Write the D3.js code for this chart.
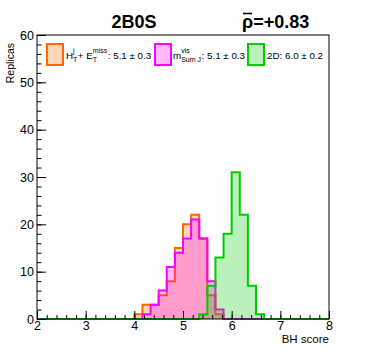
<!DOCTYPE html>
<html>
<head>
<meta charset="utf-8">
<script src="https://cdn.jsdelivr.net/npm/d3@7"></script>
<style>
  body { margin: 0; background: #fff; }
  text { font-family: "Liberation Sans", Arial, sans-serif; }
</style>
</head>
<body>
<div id="chart"></div>
<script>
const width = 366, height = 355;

// histogram binning: 36 bins of 1/6 from 2 to 8
const xMin = 2, xMax = 8, nBins = 36;

// replica counts per bin (bins 0..35)
const htMet = [0,0,0,0,0,0,0,0,0,0,0,0, 1,3,3,5,8,15,20,22,17,5,1, 0,0,0,0,0,0,0,0,0,0,0,0,0];
const mSumJ = [0,0,0,0,0,0,0,0,0,0,0,0, 0,1,3,6,11,14,17,21,17,8,2, 0,0,0,0,0,0,0,0,0,0,0,0,0];
const twoD  = [0,0,0,0,0,0,0,0,0,0,0,0, 0,0,0,0,0,0,0,0,1,7,13,18,31,22,7,1, 0,0,0,0,0,0,0,0];

const xTicks = [2, 3, 4, 5, 6, 7, 8];
const yTicks = [0, 10, 20, 30, 40, 50, 60];

const series = [
  {name: 'ht', counts: htMet, color: '#ff6600'},
  {name: 'm',  counts: mSumJ, color: '#ff00ff'},
  {name: '2d', counts: twoD,  color: '#00cc00'}
];

const margin = {top: 35, right: 37, bottom: 36, left: 37};

const x = d3.scaleLinear().domain([xMin, xMax]).range([margin.left, width - margin.right]);
const y = d3.scaleLinear().domain([0, 60]).range([height - margin.bottom, margin.top]);

const svg = d3.select('#chart').append('svg')
  .attr('width', width)
  .attr('height', height);

const binW = (xMax - xMin) / nBins;

const stepPath = counts => {
  const p = d3.path();
  p.moveTo(x(xMin), y(0));
  counts.forEach((c, i) => {
    p.lineTo(x(xMin + i * binW), y(c));
    p.lineTo(x(xMin + (i + 1) * binW), y(c));
  });
  p.lineTo(x(xMax), y(0));
  return p.toString();
};

// histograms
const hists = svg.append('g');
series.forEach(s => {
  hists.append('path')
    .attr('d', stepPath(s.counts) + 'Z')
    .attr('fill', s.color)
    .attr('fill-opacity', 0.27)
    .attr('stroke', 'none');
  hists.append('path')
    .attr('d', stepPath(s.counts))
    .attr('fill', 'none')
    .attr('stroke', s.color)
    .attr('stroke-width', 2);
});

// frame
svg.append('rect')
  .attr('x', x(xMin)).attr('y', y(60))
  .attr('width', x(xMax) - x(xMin)).attr('height', y(0) - y(60))
  .attr('fill', 'none').attr('stroke', '#000').attr('stroke-width', 1);

// x axis
const xMinor = svg.append('g')
  .attr('transform', `translate(0,${y(0)})`)
  .call(d3.axisBottom(x).tickValues(d3.range(0, 31).map(i => xMin + i * 0.2)).tickSize(-4).tickFormat(''));
const xAxis = svg.append('g')
  .attr('transform', `translate(0,${y(0)})`)
  .call(d3.axisBottom(x).tickValues(xTicks).tickSize(-8).tickFormat(d3.format('d')));

// y axis
const yMinor = svg.append('g')
  .attr('transform', `translate(${x(xMin)},0)`)
  .call(d3.axisLeft(y).tickValues(d3.range(0, 31).map(i => i * 2)).tickSize(-4.5).tickFormat(''));
const yAxis = svg.append('g')
  .attr('transform', `translate(${x(xMin)},0)`)
  .call(d3.axisLeft(y).tickValues(yTicks).tickSize(-9).tickPadding(3).tickFormat(d3.format('d')));

[xMinor, xAxis, yMinor, yAxis].forEach(g => {
  g.select('.domain').remove();
  g.selectAll('line').attr('stroke', '#000');
  g.selectAll('text').attr('font-size', 12.5).attr('fill', '#000')
    .style('font-family', '"Liberation Sans", Arial, sans-serif');
});
xAxis.selectAll('text').attr('y', 11).attr('dy', '0');

// axis titles
svg.append('text')
  .attr('x', x(xMax)).attr('y', 343)
  .attr('text-anchor', 'end').attr('font-size', 11.5)
  .text('BH score');

svg.append('text')
  .attr('transform', `translate(14,${y(60) + 8}) rotate(-90)`)
  .attr('text-anchor', 'end').attr('font-size', 10.5)
  .text('Replicas');

// titles
svg.append('text')
  .attr('x', 134).attr('y', 28)
  .attr('text-anchor', 'middle').attr('font-size', 18).attr('font-weight', 'bold')
  .text('2B0S');

svg.append('text')
  .attr('x', 242).attr('y', 28)
  .attr('font-size', 18).attr('font-weight', 'bold')
  .text('\u03c1=+0.83');
svg.append('line')
  .attr('x1', 243).attr('x2', 252)
  .attr('y1', 13.5).attr('y2', 13.5)
  .attr('stroke', '#000').attr('stroke-width', 1.6);

// legend
const legY = 58.5;
const boxes = [
  {x: 47, color: '#ff6600'},
  {x: 155, color: '#ff00ff'},
  {x: 248, color: '#00cc00'}
];
boxes.forEach(b => {
  svg.append('rect')
    .attr('x', b.x).attr('y', 44)
    .attr('width', 16).attr('height', 21)
    .attr('fill', b.color).attr('fill-opacity', 0.27)
    .attr('stroke', b.color).attr('stroke-width', 2);
});

// writes pieces one after another; a piece with sup+sub stacks them
function richText(x0, pieces) {
  let cx = x0;
  pieces.forEach(p => {
    if (p.t !== undefined) {
      const t = svg.append('text').attr('x', cx).attr('y', legY)
        .attr('font-size', 9.8).text(p.t);
      cx += t.node().getComputedTextLength();
    } else {
      let w = 0;
      if (p.sup) {
        const s = svg.append('text').attr('x', cx).attr('y', legY - 5.5)
          .attr('font-size', 7).text(p.sup);
        w = Math.max(w, s.node().getComputedTextLength());
      }
      if (p.sub) {
        const s = svg.append('text').attr('x', cx).attr('y', legY + 3)
          .attr('font-size', 7).text(p.sub);
        w = Math.max(w, s.node().getComputedTextLength());
      }
      cx += w + 0.5;
    }
  });
}

richText(66, [
  {t: 'H'}, {sup: 'j', sub: 'T'}, {t: ' + E'}, {sup: 'miss', sub: 'T'}, {t: ': 5.1 \u00b1 0.3'}
]);
richText(173, [
  {t: 'm'}, {sup: 'vis', sub: 'Sum J'}, {t: ': 5.1 \u00b1 0.3'}
]);
richText(267, [
  {t: '2D: 6.0 \u00b1 0.2'}
]);
</script>
</body>
</html>
